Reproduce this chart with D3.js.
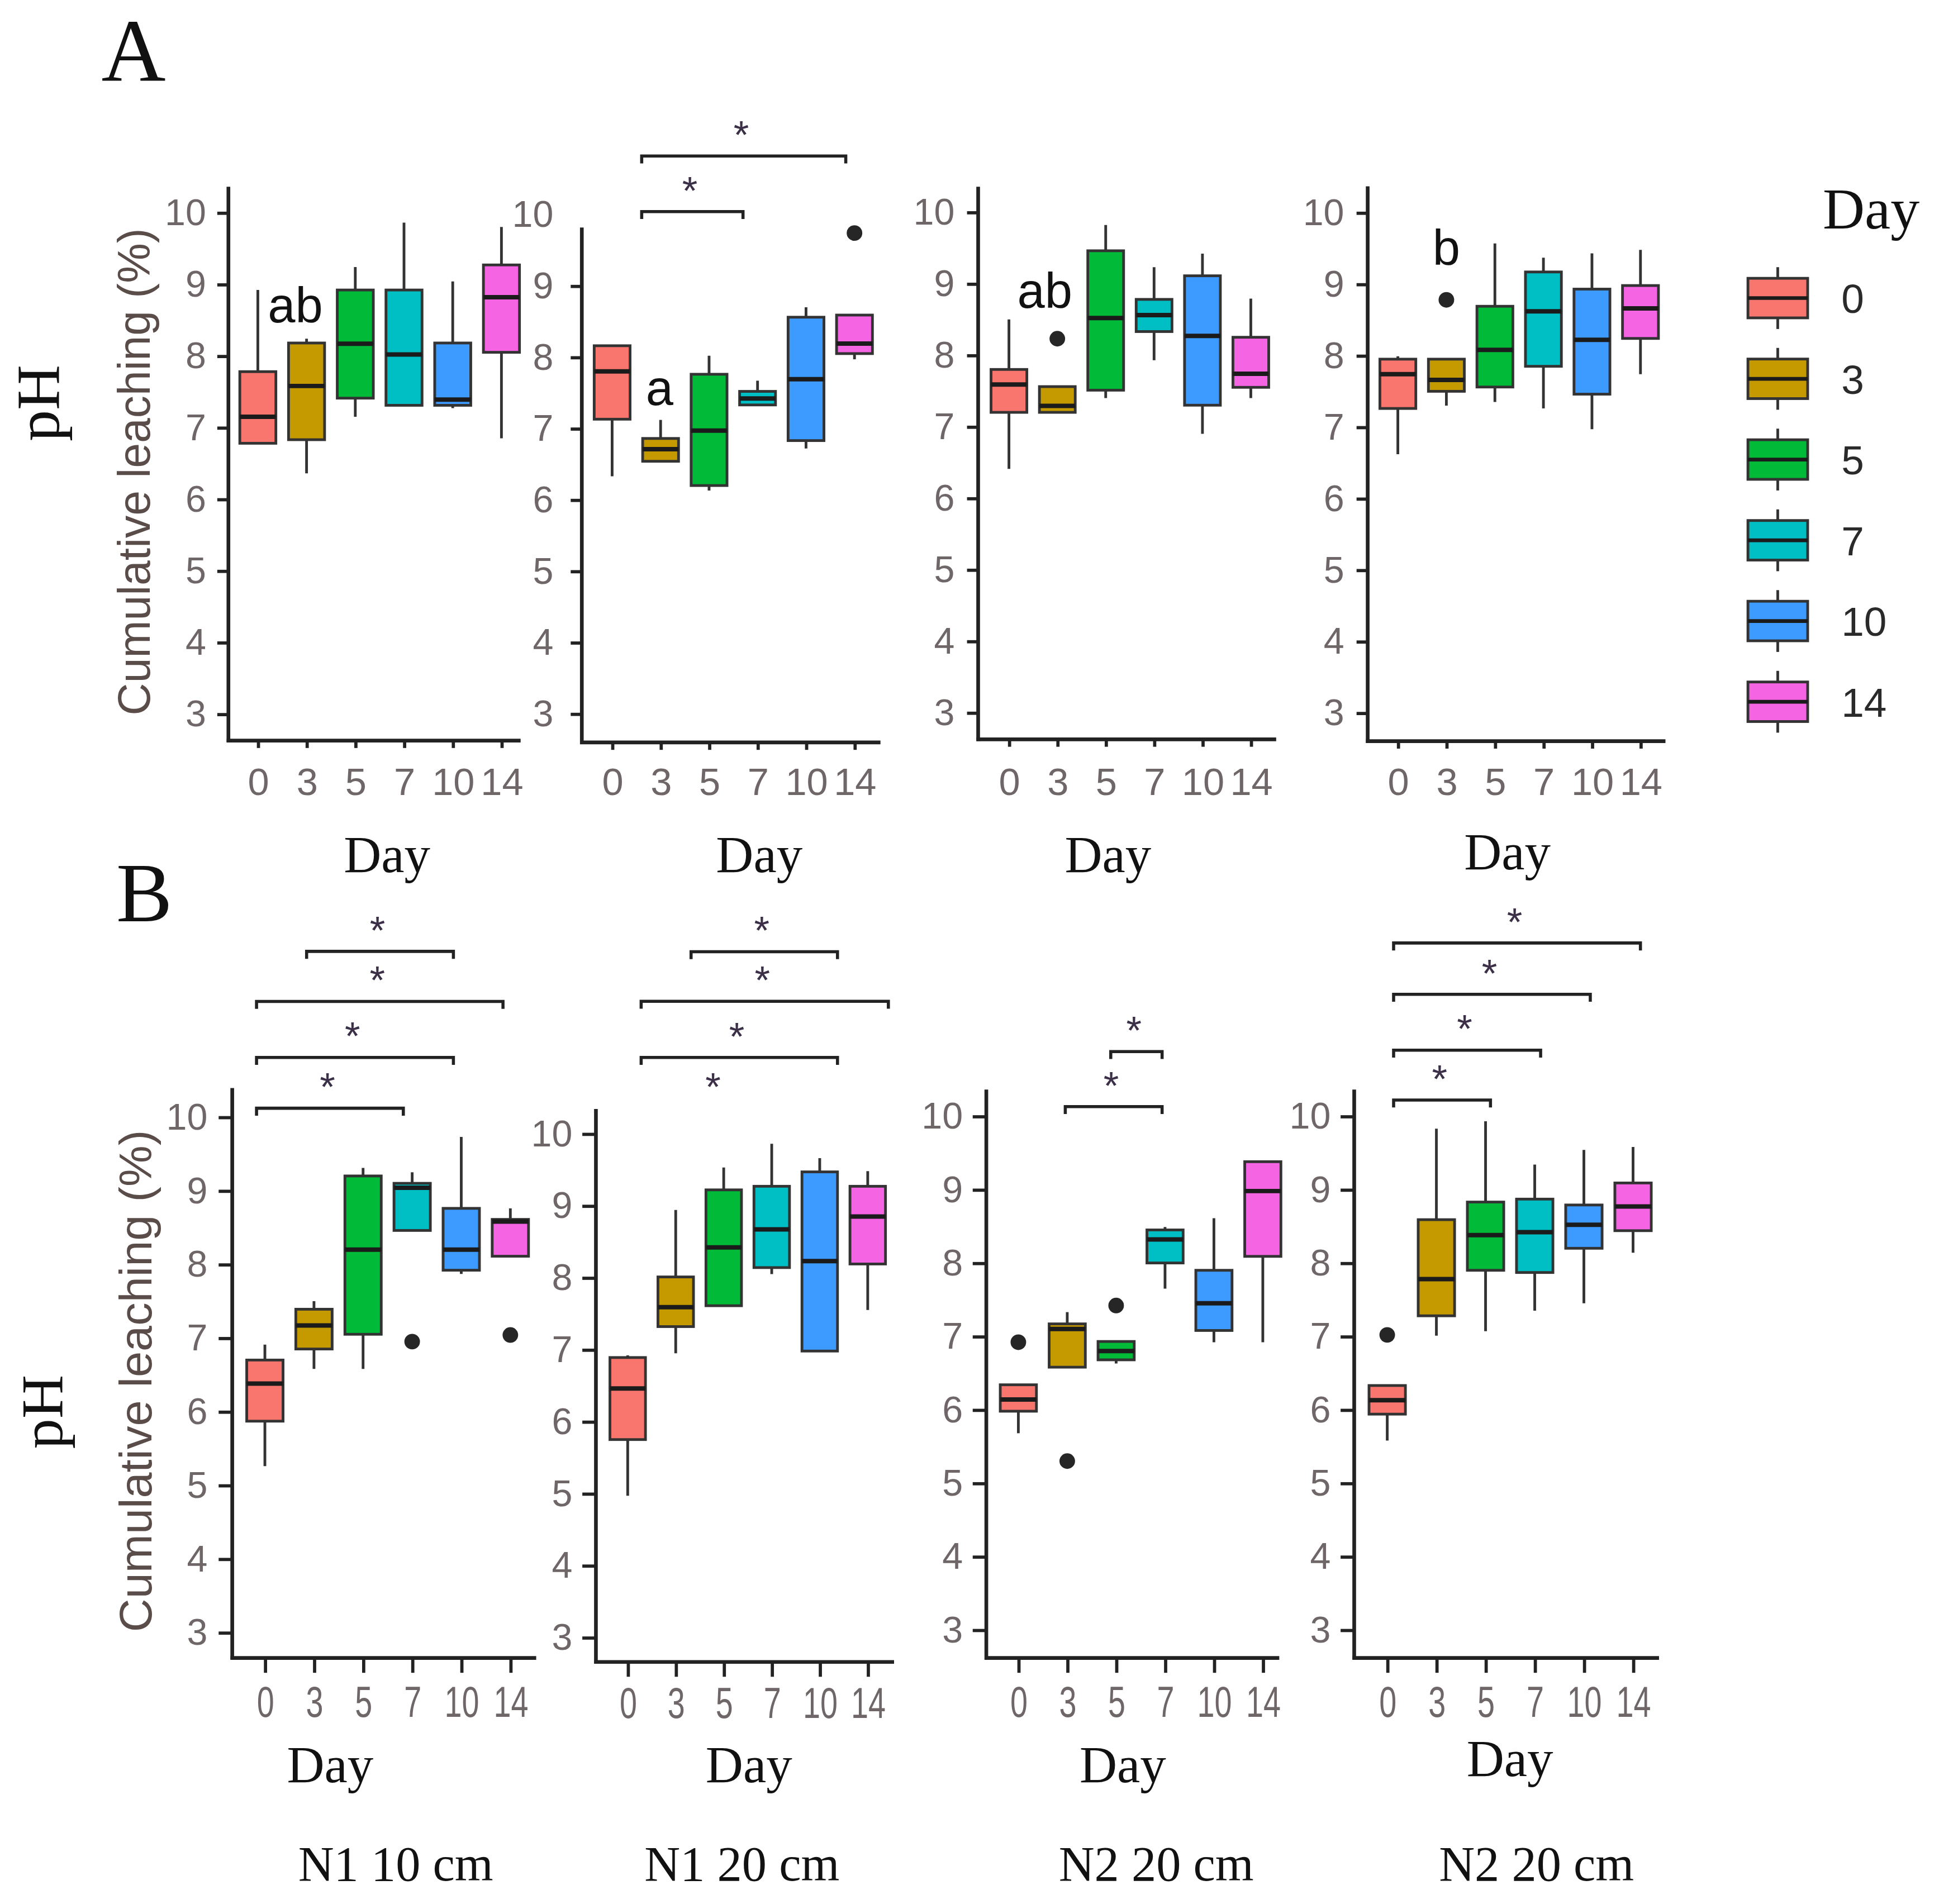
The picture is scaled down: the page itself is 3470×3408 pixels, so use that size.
<!DOCTYPE html>
<html><head><meta charset="utf-8">
<script src="https://cdn.jsdelivr.net/npm/d3@7"></script>
<style>html,body{margin:0;padding:0;background:#fff;} svg{display:block;}</style>
</head><body>
<svg id="chart" width="3470" height="3408" viewBox="0 0 1568 1540"></svg>
<script>
// ---------------- DATA ----------------
const days = ["0", "3", "5", "7", "10", "14"];
const dayColors = ["#F8766D", "#C49A00", "#00BA38", "#00BFC4", "#3D9BFF", "#F564E3"];
const yTicks = [3, 4, 5, 6, 7, 8, 9, 10];
const panelNames = ["N1 10 cm", "N1 20 cm", "N2 20 cm", "N2 20 cm"];
const rowLetters = ["A", "B"];
const xTitle = "Day";
const yTitleOuter = "pH";
const yTitleInner = "Cumulative leaching (%)";

// box stats per day: [lower whisker, Q1, median, Q3, upper whisker]
const A1_stats = [[6.78,6.78,7.15,7.78,8.92],[6.36,6.83,7.58,8.18,8.24],[7.15,7.41,8.17,8.92,9.24],[7.31,7.31,8.02,8.92,9.86],[7.27,7.31,7.39,8.18,9.04],[6.85,8.05,8.82,9.27,9.80]];
const A2_stats = [[6.33,7.13,7.80,8.16,8.16],[6.54,6.54,6.71,6.86,7.12],[6.13,6.20,6.97,7.76,8.02],[7.33,7.33,7.42,7.52,7.67],[6.72,6.83,7.69,8.56,8.70],[7.97,8.05,8.19,8.59,8.59]];
const A3_stats = [[6.41,7.20,7.59,7.80,8.50],[7.20,7.20,7.29,7.56,7.56],[7.40,7.51,8.52,9.46,9.82],[7.93,8.33,8.56,8.78,9.23],[6.90,7.30,8.27,9.11,9.42],[7.40,7.55,7.74,8.25,8.79]];
const A4_stats = [[6.62,7.26,7.74,7.95,7.99],[7.30,7.50,7.66,7.95,7.95],[7.35,7.56,8.08,8.69,9.57],[7.26,7.85,8.62,9.17,9.37],[6.97,7.46,8.22,8.93,9.43],[7.74,8.24,8.66,8.98,9.48]];
const B1_stats = [[5.26,5.87,6.38,6.70,6.91],[6.58,6.85,7.17,7.39,7.50],[6.58,7.05,8.20,9.20,9.31],[8.46,8.46,9.04,9.10,9.25],[7.87,7.92,8.20,8.76,9.73],[8.11,8.11,8.58,8.61,8.76]];
const B2_stats = [[4.97,5.75,6.46,6.89,6.92],[6.95,7.32,7.59,8.01,8.94],[7.61,7.61,8.42,9.22,9.53],[8.05,8.14,8.67,9.27,9.86],[6.98,6.98,8.23,9.47,9.66],[7.55,8.19,8.85,9.27,9.48]];
const B3_stats = [[5.68,5.98,6.14,6.34,6.34],[6.58,6.58,7.10,7.17,7.33],[6.63,6.68,6.80,6.93,6.93],[7.65,8.00,8.32,8.45,8.49],[6.92,7.08,7.45,7.90,8.61],[6.92,8.09,8.98,9.38,9.38]];
const B4_stats = [[5.58,5.94,6.13,6.33,6.33],[7.01,7.28,7.78,8.59,9.83],[7.07,7.90,8.38,8.83,9.93],[7.35,7.87,8.42,8.87,9.34],[7.45,8.20,8.52,8.79,9.54],[8.14,8.44,8.77,9.09,9.58]];

// outliers
const A1_out = [];
const A2_out = [{day:"14", v:9.74}];
const A3_out = [{day:"3", v:8.23}];
const A4_out = [{day:"3", v:8.78}];
const B1_out = [{day:"7", v:6.95}, {day:"14", v:7.04}];
const B2_out = [];
const B3_out = [{day:"0", v:6.92}, {day:"3", v:5.30}, {day:"5", v:7.42}];
const B4_out = [{day:"0", v:7.02}];

// significance brackets: x1/x2 along day axis (index units), y in pH
const A2_sig = [{x1:0.61,x2:4.82,y:10.82},{x1:0.61,x2:2.70,y:10.04}];
const B1_sig = [{x1:0.85,x2:3.84,y:12.25},{x1:-0.17,x2:4.85,y:11.57},{x1:-0.17,x2:3.84,y:10.81},{x1:-0.17,x2:2.82,y:10.12}];
const B2_sig = [{x1:1.32,x2:4.37,y:12.53},{x1:0.28,x2:5.43,y:11.84},{x1:0.28,x2:4.37,y:11.06},{x1:0.33,x2:3.33,y:10.36,line:false}];
const B3_sig = [{x1:1.89,x2:2.94,y:10.88},{x1:0.96,x2:2.94,y:10.13}];
const B4_sig = [{x1:0.13,x2:5.15,y:12.36},{x1:0.13,x2:4.13,y:11.66},{x1:0.13,x2:3.12,y:10.90},{x1:0.13,x2:2.10,y:10.22}];
const sigSymbol = "*";

// letter annotations
const A1_let = [{x:0.77, y:8.47, t:"ab"}];
const A2_let = [{x:0.98, y:7.33, t:"a"}];
const A3_let = [{x:0.74, y:8.66, t:"ab"}];
const A4_let = [{x:1.00, y:9.27, t:"b"}];

// ---------------- LAYOUT ----------------
const SANS = "'Liberation Sans', Arial, Helvetica, sans-serif";
const SERIF = "'Liberation Serif', 'Times New Roman', serif";
const TICKCOL = "#6f6668";
const panels = [
  {stats:A1_stats,out:A1_out,sig:[],let:A1_let,row:0, L:{axisX:184.7,top:151,bottom:599,xEnd:421,y10:172,y3:577.5,x0:208.5,step:39.4,gap:18,tickY:9,tickX:6,xLab:643,xFont:31,xSX:1,dayX:313,dayY:705.5}},
  {stats:A2_stats,out:A2_out,sig:A2_sig,let:A2_let,row:0, L:{axisX:470.5,top:184,bottom:600.5,xEnd:712,y10:173.5,y3:577.3,x0:495,step:39.2,gap:23,tickY:9,tickX:6,xLab:643,xFont:31,xSX:1,dayX:614,dayY:705.5}},
  {stats:A3_stats,out:A3_out,sig:[],let:A3_let,row:0, L:{axisX:791,top:151,bottom:598,xEnd:1032,y10:171.6,y3:576.4,x0:815.9,step:39.12,gap:19,tickY:9,tickX:6,xLab:643,xFont:31,xSX:1,dayX:896,dayY:705.5}},
  {stats:A4_stats,out:A4_out,sig:[],let:A4_let,row:0, L:{axisX:1106,top:150.7,bottom:599.5,xEnd:1346.8,y10:172,y3:576.6,x0:1130.4,step:39.24,gap:19,tickY:9,tickX:6,xLab:643,xFont:31,xSX:1,dayX:1219,dayY:703}},
  {stats:B1_stats,out:B1_out,sig:B1_sig,let:[],row:1,name:0, L:{axisX:187.8,top:880,bottom:1341,xEnd:433.6,y10:903.5,y3:1320.4,x0:214.2,step:39.7,gap:20,tickY:11,tickX:12,xLab:1388.5,xFont:35,xSX:0.72,dayX:267,dayY:1441.5,nameX:320}},
  {stats:B2_stats,out:B2_out,sig:B2_sig,let:[],row:1,name:1, L:{axisX:481.9,top:897,bottom:1344.2,xEnd:723,y10:917,y3:1324.4,x0:507.6,step:38.82,gap:19,tickY:11,tickX:12,xLab:1389.5,xFont:35,xSX:0.72,dayX:605.6,dayY:1441.5,nameX:600}},
  {stats:B3_stats,out:B3_out,sig:B3_sig,let:[],row:1,name:2, L:{axisX:797.6,top:881.3,bottom:1341,xEnd:1034.5,y10:902.8,y3:1318.3,x0:823.5,step:39.54,gap:19,tickY:11,tickX:12,xLab:1388.5,xFont:35,xSX:0.72,dayX:908,dayY:1441.5,nameX:935}},
  {stats:B4_stats,out:B4_out,sig:B4_sig,let:[],row:1,name:3, L:{axisX:1095.1,top:881.3,bottom:1341,xEnd:1341.6,y10:902.8,y3:1318.3,x0:1121.8,step:39.76,gap:19,tickY:11,tickX:12,xLab:1388.5,xFont:35,xSX:0.72,dayX:1221,dayY:1436.6,nameX:1242.5}}
];

const svg = d3.select("#chart");
svg.append("rect").attr("width",1568).attr("height",1540).attr("fill","#fff");

panels.forEach(p => {
  const L = p.L;
  const g = svg.append("g");
  const y = d3.scaleLinear().domain([3,10]).range([L.y3, L.y10]);
  const x = d3.scalePoint().domain(days).range([L.x0, L.x0 + 5*L.step]);
  const xi = d3.scaleLinear().domain([0,5]).range([L.x0, L.x0 + 5*L.step]);
  const bw = 0.74 * L.step;

  // boxes
  const box = g.selectAll("g.box").data(p.stats.map((s,i)=>({s, day:days[i], i}))).join("g");
  box.append("line").attr("x1",d=>x(d.day)).attr("x2",d=>x(d.day))
     .attr("y1",d=>y(d.s[4])).attr("y2",d=>y(d.s[0]))
     .attr("stroke","#333").attr("stroke-width",2.2);
  box.append("rect").attr("x",d=>x(d.day)-bw/2).attr("width",bw)
     .attr("y",d=>y(d.s[3])).attr("height",d=>Math.max(0.5,y(d.s[1])-y(d.s[3])))
     .attr("fill",d=>dayColors[d.i]).attr("stroke","#333").attr("stroke-width",2.2);
  box.append("line").attr("x1",d=>x(d.day)-bw/2).attr("x2",d=>x(d.day)+bw/2)
     .attr("y1",d=>y(d.s[2])).attr("y2",d=>y(d.s[2]))
     .attr("stroke","#1b1b1b").attr("stroke-width",3.6);
  g.selectAll("circle.out").data(p.out).join("circle")
     .attr("cx",d=>x(d.day)).attr("cy",d=>y(d.v)).attr("r",6.3).attr("fill","#262626");

  // y axis
  const ya = g.append("g").attr("transform",`translate(${L.axisX},0)`)
     .call(d3.axisLeft(y).tickValues(yTicks).tickFormat(d3.format("d"))
       .tickSize(L.tickY).tickPadding(L.gap - L.tickY));
  ya.select(".domain").remove();
  ya.selectAll(".tick line").attr("stroke","#222").attr("stroke-width",2.6)
     .attr("display", d => (y(d) < L.top - 1 ? "none" : null));
  ya.selectAll(".tick text").attr("fill",TICKCOL).attr("font-family",SANS).attr("font-size",30);

  // x axis
  const xa = g.append("g").attr("transform",`translate(0,${L.bottom})`)
     .call(d3.axisBottom(x).tickSize(L.tickX));
  xa.select(".domain").remove();
  xa.selectAll(".tick line").attr("stroke","#222").attr("stroke-width",2.6);
  xa.selectAll(".tick text").attr("fill",TICKCOL).attr("font-family",SANS).attr("font-size",L.xFont)
     .attr("dy",null).attr("y",L.xLab - L.bottom).attr("transform",`scale(${L.xSX},1)`);

  // axis lines
  g.append("line").attr("x1",L.axisX).attr("x2",L.axisX).attr("y1",L.top).attr("y2",L.bottom+1.4)
     .attr("stroke","#222").attr("stroke-width",3);
  g.append("line").attr("x1",L.axisX-1.4).attr("x2",L.xEnd).attr("y1",L.bottom).attr("y2",L.bottom)
     .attr("stroke","#222").attr("stroke-width",3);

  // x title
  g.append("text").attr("x",L.dayX).attr("y",L.dayY).attr("text-anchor","middle")
     .attr("font-family",SERIF).attr("font-size",42).attr("fill","#111").text(xTitle);
  if (p.name !== undefined) {
    g.append("text").attr("x",L.nameX).attr("y",1521).attr("text-anchor","middle")
     .attr("font-family",SERIF).attr("font-size",40).attr("fill","#111").text(panelNames[p.name]);
  }

  // significance brackets
  const sg = g.selectAll("g.sig").data(p.sig).join("g");
  sg.filter(d=>d.line!==false).append("path")
     .attr("d",d=>`M${xi(d.x1)},${y(d.y)+6}V${y(d.y)}H${xi(d.x2)}V${y(d.y)+6}`)
     .attr("fill","none").attr("stroke","#222").attr("stroke-width",2.5);
  sg.append("text").attr("x",d=>(xi(d.x1)+xi(d.x2))/2 - 2).attr("y",d=>y(d.y)-6)
     .attr("text-anchor","middle").attr("font-family",SANS).attr("font-size",32)
     .attr("fill","#3b3048").text(sigSymbol);

  // letters
  g.selectAll("text.let").data(p.let).join("text")
     .attr("x",d=>xi(d.x)).attr("y",d=>y(d.y)).attr("text-anchor","middle")
     .attr("font-family",SANS).attr("font-size",40).attr("fill","#111").text(d=>d.t);
});

// row letters and y titles
const rowLay = [
  {letX:82, letY:65, letSize:72, phX:47.7, phY:326, phSize:50, phLen:62, ylX:121, ylY:381.6, ylLen:394},
  {letX:94, letY:745, letSize:68, phX:50, phY:1142, phSize:48, phLen:60, ylX:122.3, ylY:1117, ylLen:406}
];
rowLay.forEach((r,i) => {
  svg.append("text").attr("x",r.letX).attr("y",r.letY).attr("font-family",SERIF)
     .attr("font-size",r.letSize).attr("fill","#111").text(rowLetters[i]);
  svg.append("text").attr("transform",`translate(${r.phX},${r.phY}) rotate(-90)`)
     .attr("text-anchor","middle").attr("font-family",SERIF).attr("font-size",r.phSize)
     .attr("textLength",r.phLen).attr("lengthAdjust","spacingAndGlyphs")
     .attr("fill","#111").text(yTitleOuter);
  svg.append("text").attr("transform",`translate(${r.ylX},${r.ylY}) rotate(-90)`)
     .attr("text-anchor","middle").attr("font-family",SANS).attr("font-size",37)
     .attr("textLength",r.ylLen).attr("lengthAdjust","spacingAndGlyphs")
     .attr("fill","#5a4c48").text(yTitleInner);
});

// legend
const lg = svg.append("g");
lg.append("text").attr("x",1474).attr("y",185).attr("font-family",SERIF).attr("font-size",47)
  .attr("fill","#111").text(xTitle);
const ly = d3.scalePoint().domain(days).range([241.1, 241.1 + 5*65.3]);
const key = lg.selectAll("g.key").data(days).join("g");
key.append("line").attr("x1",1437.6).attr("x2",1437.6).attr("y1",d=>ly(d)-25).attr("y2",d=>ly(d)+25)
  .attr("stroke","#333").attr("stroke-width",2.2);
key.append("rect").attr("x",1413.5).attr("width",48.3).attr("y",d=>ly(d)-16).attr("height",32)
  .attr("fill",(d,i)=>dayColors[i]).attr("stroke","#333").attr("stroke-width",2.2);
key.append("line").attr("x1",1413.5).attr("x2",1461.8).attr("y1",d=>ly(d)).attr("y2",d=>ly(d))
  .attr("stroke","#1b1b1b").attr("stroke-width",3);
key.append("text").attr("x",1489).attr("y",d=>ly(d)+12).attr("font-family",SANS).attr("font-size",33)
  .attr("fill","#2a2a2a").text(d=>d);
</script>
</body></html>
